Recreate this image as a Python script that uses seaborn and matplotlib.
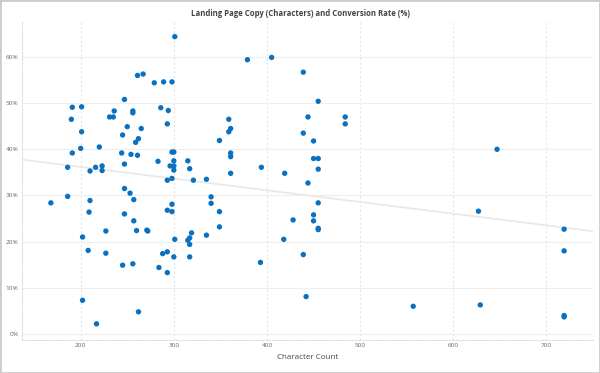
import numpy as np
import pandas as pd
import matplotlib.pyplot as plt
import seaborn as sns
from matplotlib.ticker import FuncFormatter
from matplotlib.patches import Rectangle

# ==========================================
# DATA
# ==========================================
char_count = [
    301, 261, 267, 279, 289, 298, 247, 191, 201, 286,
    294, 236, 256, 256, 231, 235, 190, 293, 250, 265,
    201, 245, 262, 259, 220, 200, 191, 244, 254, 261,
    298, 300, 283, 315, 247, 300, 186, 216, 223, 296,
    300, 317, 210, 223, 300, 293, 298, 321, 247, 253,
    257, 168, 186, 210, 209, 247, 298, 293, 298, 257,
    227, 260, 271, 272, 319, 202, 301, 315, 317, 317,
    208, 227, 288, 293, 300, 317, 256, 245, 284, 293,
    202, 262, 217,
    379, 405, 439, 455, 359, 444, 484, 484, 361, 359,
    439, 349, 450, 361, 361, 450, 455, 394, 455, 361,
    419, 335, 444, 340, 340, 349, 455, 450, 450, 428,
    349, 455, 455, 335, 418, 439, 393, 442,
    627, 557, 629, 719, 719, 719, 719, 647,
]
conv_rate = [
    64.4, 56.0, 56.3, 54.4, 54.6, 54.6, 50.8, 49.1, 49.2, 49.0,
    48.4, 48.3, 48.3, 47.9, 47.0, 47.0, 46.5, 45.5, 44.9, 44.5,
    43.8, 43.1, 42.3, 41.5, 40.5, 40.2, 39.2, 39.2, 38.9, 38.7,
    39.4, 39.4, 37.4, 37.5, 36.8, 37.5, 36.1, 36.1, 36.4, 36.4,
    36.4, 35.8, 35.3, 35.4, 35.5, 33.3, 33.7, 33.3, 31.5, 30.5,
    29.1, 28.4, 29.8, 28.9, 26.4, 26.0, 28.1, 26.8, 26.5, 24.5,
    22.3, 22.4, 22.5, 22.3, 21.9, 21.0, 20.5, 20.3, 20.8, 19.4,
    18.1, 17.5, 17.4, 17.8, 16.7, 16.7, 15.2, 14.9, 14.4, 13.3,
    7.3, 4.8, 2.2,
    59.4, 59.9, 56.7, 50.4, 46.5, 47.0, 47.0, 45.5, 44.5, 43.8,
    43.5, 41.9, 41.8, 39.2, 38.4, 38.0, 38.0, 36.1, 35.7, 34.8,
    34.8, 33.5, 32.7, 29.7, 28.3, 26.5, 28.4, 25.8, 24.5, 24.7,
    23.2, 22.9, 22.6, 21.4, 20.5, 17.2, 15.5, 8.1,
    26.6, 6.0, 6.3, 22.7, 18.0, 4.0, 3.7, 40.0,
]
x_ticks = [200, 300, 400, 500, 600, 700]
y_ticks = [0, 10, 20, 30, 40, 50, 60]

df = pd.DataFrame({"Character Count": char_count, "Conversion Rate": conv_rate})

# ==========================================
# PLOT
# ==========================================
sns.set_theme(style="white")
plt.rcParams['font.family'] = ['Open Sans', 'DejaVu Sans']

fig, ax = plt.subplots(figsize=(6, 3.73), dpi=100)
fig.subplots_adjust(left=22 / 600, right=593 / 600, top=1 - 20 / 373, bottom=1 - 340 / 373)

# limits first so the trend line spans the full width
ax.set_xlim(137, 750)
ax.set_ylim(-1.3, 68)

sns.regplot(data=df, x="Character Count", y="Conversion Rate", ax=ax,
            scatter=False, ci=None, truncate=False, color="#e9e9e9",
            line_kws=dict(lw=1.3, zorder=1))
sns.scatterplot(data=df, x="Character Count", y="Conversion Rate", ax=ax,
                color="#0a70c0", s=15, edgecolor="none", zorder=3)

# grid & axes styling
ax.set_xticks(x_ticks)
ax.set_yticks(y_ticks)
ax.yaxis.set_major_formatter(FuncFormatter(lambda v, p: f"{int(v)}%"))
ax.yaxis.grid(True, color="#eeeeee", lw=0.8)
ax.xaxis.grid(True, color="#e6e6e6", lw=0.8, ls=(0, (2, 2)))
ax.set_axisbelow(True)
for side in ['top', 'right']:
    ax.spines[side].set_visible(False)
for side in ['left', 'bottom']:
    ax.spines[side].set_color("#dedede")
    ax.spines[side].set_linestyle((0, (1.5, 1.5)))
    ax.spines[side].set_linewidth(0.8)
ax.tick_params(length=0, labelsize=4.6, labelcolor="#666666", pad=2.5)

ax.set_ylabel("")
ax.set_xlabel("Character Count", fontsize=5.8, color="#444444", labelpad=4)
fig.text(0.5, 1 - 13 / 373, "Landing Page Copy (Characters) and Conversion Rate (%)",
         ha="center", va="center", fontsize=5.6, fontweight="bold", color="#444444")

# light frame around the picture
fig.patches.append(Rectangle((0, 0), 1, 1, transform=fig.transFigure, fill=False,
                             edgecolor="#cccccc", lw=2))

fig.savefig("out.png", dpi=100)
